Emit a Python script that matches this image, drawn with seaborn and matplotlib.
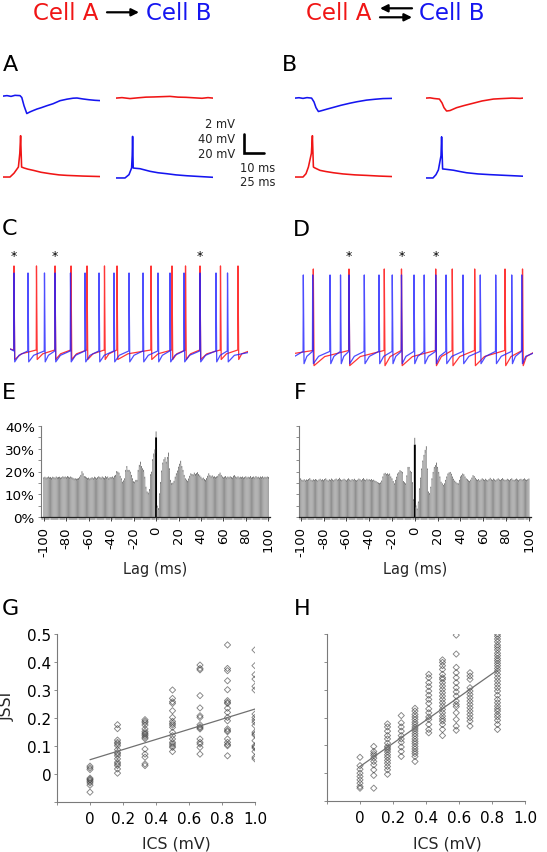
import numpy as np
import pandas as pd
import matplotlib
matplotlib.use("Agg")
import matplotlib.pyplot as plt
from matplotlib.patches import FancyArrowPatch
from matplotlib.transforms import blended_transform_factory
from matplotlib.ticker import FixedLocator, MultipleLocator
import seaborn as sns

sns.set_style("white")
plt.rcParams['font.family'] = ['DejaVu Sans']

W, H = 547, 853
RED = '#f01515'
BLUE = '#1515f0'

# ======================= DATA =======================
# --- Panels A/B: averaged traces (time in ms, voltage in mV) ---
A_top_left_t = [0, 2, 4, 6, 8.5, 9.4, 10.5, 11.9, 13.5, 15.2, 17, 19, 22, 25, 28.5, 32, 35, 37, 40, 43, 46, 48.5]
A_top_left_v = [0.0, 0.05, -0.03, 0.08, 0.05, -0.15, -1.0, -1.82, -1.65, -1.5, -1.35, -1.22, -1.0, -0.8, -0.48, -0.32, -0.22, -0.2, -0.3, -0.38, -0.44, -0.47]
A_top_right_t = [0, 3, 7, 11, 15, 19, 23, 27, 31, 35, 39, 43, 46, 48.5]
A_top_right_v = [0.0, 0.05, -0.05, 0.03, 0.1, 0.12, 0.15, 0.18, 0.1, 0.08, 0.03, -0.02, 0.05, 0.0]
A_bot_left_t = [0, 3.5, 5.5, 7.7, 8.4, 8.8, 9.3, 10.5, 12.5, 15.2, 19, 23.5, 28, 32, 40, 48.5]
A_bot_left_v = [-65, -65, -57, -44, -15, 22, -44, -46, -48.5, -51, -55, -58, -60.5, -61.6, -63, -64]
A_bot_right_t = [0, 4.5, 6.5, 7.8, 8.1, 8.3, 8.6, 9.5, 12, 17, 21, 25.3, 30, 35.3, 42, 48.5]
A_bot_right_v = [-67, -67, -60, -46, -20, 20.5, -46, -46.5, -47.5, -53, -56, -58, -60.5, -62.3, -64, -65.6]

B_top_left_t = [0, 2, 4, 6, 8.3, 9.5, 10.5, 11.7, 13.5, 16, 19, 23, 27.5, 31, 35.8, 40, 44, 48.5]
B_top_left_v = [0, 0.04, -0.03, 0.05, 0.0, -0.4, -1.0, -1.4, -1.3, -1.15, -0.98, -0.75, -0.53, -0.38, -0.21, -0.12, -0.05, -0.03]
B_top_right_t = [0, 2, 4, 6.7, 8, 9, 10.3, 12, 15.3, 19, 23.7, 28, 33.7, 38, 43, 47, 48.5]
B_top_right_v = [0, 0.03, -0.04, -0.1, -0.5, -1.0, -1.35, -1.3, -1.0, -0.78, -0.53, -0.3, -0.1, -0.05, 0.0, -0.03, 0.0]
B_bot_left_t = [0, 4, 5.5, 6.7, 8.2, 8.7, 9.2, 10, 12.5, 15.5, 19.2, 24, 30, 35.8, 42, 48.5]
B_bot_left_v = [-65, -65, -58, -44, -15, 22, -44, -46, -51, -53.5, -56, -58.5, -60.5, -61.6, -63, -64]
B_bot_right_t = [0, 3.5, 5, 6.2, 7.5, 7.8, 8.3, 9.5, 13.7, 17, 20.3, 26, 32, 37, 42, 48.5]
B_bot_right_v = [-67, -67, -60, -50, -20, 19.6, -48, -48.5, -50.7, -53.5, -56, -58.5, -60, -61, -62, -63.3]

SCALE_MS = 10
SCALE_MV = 40

# --- Panels C/D: spike times (ms) ---
C_red_spikes = [5.0, 33.1, 56.3, 76.3, 96.3, 118.1, 133.8, 176.3, 202.5, 219.4, 237.5, 263.1, 285.0]
C_blue_spikes = [5.0, 22.5, 43.1, 56.3, 75.6, 93.8, 111.3, 130.0, 148.8, 166.3, 185.0, 200.0, 217.5, 237.5, 257.5, 271.9]
C_sync = [5.0, 56.3, 237.5]
D_red_spikes = [22.9, 67.5, 111.6, 133.1, 175.9, 196.6, 224.6, 262.5, 284.4]
D_blue_spikes = [10.4, 22.1, 43.8, 56.9, 67.5, 86.6, 105.0, 121.6, 133.1, 148.8, 161.5, 175.9, 188.8, 210.0, 231.6, 250.9, 270.9, 283.4]
D_sync = [67.5, 133.1, 175.9]
# (threshold, peak, after-hyperpolarisation, start) in mV
C_red_levels = (-59.5, 29.0, -69.5, -58.4)
C_blue_levels = (-60.5, 21.6, -72.0, -58.4)
D_red_levels = (-60.0, 25.8, -76.0, -63.0)
D_blue_levels = (-61.0, 19.5, -73.9, -66.0)

# --- Panels E/F: cross-correlograms (% vs lag, ms) ---
lags = list(range(-100, 101))
E_pct = [
    16.5, 16.8, 16.4, 16.6, 16.9, 16.5, 16.7, 16.3, 16.8, 16.6,
    16.4, 16.9, 16.5, 16.7, 16.8, 16.4, 16.6, 17.0, 16.7, 16.9,
    16.6, 17.1, 16.8, 16.5, 16.9, 16.6, 16.3, 16.0, 16.1, 15.9,
    16.0, 16.2, 16.8, 17.6, 19.2, 18.3, 17.1, 16.9, 16.5, 16.2,
    16.4, 16.0, 16.3, 16.6, 16.2, 16.8, 16.5, 16.1, 16.6, 17.0,
    16.7, 16.4, 16.9, 16.5, 16.3, 17.1, 16.6, 16.9, 16.2, 16.7,
    16.6, 16.9, 16.4, 17.2, 17.6, 19.3, 19.0, 18.6, 17.2, 16.1,
    14.6, 15.2, 16.1, 19.8, 21.5, 19.8, 19.8, 19.0, 17.6, 16.1,
    14.8, 14.6, 15.4, 15.4, 19.8, 22.0, 23.0, 21.5, 20.5, 19.8,
    16.8, 12.4, 10.3, 9.8, 11.4, 17.9, 19.0, 24.5, 26.4, 28.1,
    35.0,
    4.1, 3.0, 9.5, 14.5, 19.5, 23.0, 24.5, 24.9, 23.4, 25.5,
    26.7, 20.5, 15.4, 14.0, 14.2, 15.0, 16.8, 18.3, 19.5, 21.2,
    22.5, 23.4, 21.5, 19.8, 17.6, 16.1, 15.5, 15.0, 16.0, 17.2,
    18.3, 18.0, 17.8, 18.6, 18.0, 18.4, 18.8, 18.0, 17.4, 16.8,
    16.1, 16.4, 15.8, 15.4, 16.2, 17.2, 18.3, 17.5, 17.0, 17.4,
    16.8, 17.0, 16.6, 16.9, 17.2, 18.0, 18.6, 17.6, 16.9, 16.5,
    16.8, 17.1, 16.5, 16.9, 16.6, 17.0, 16.7, 16.4, 17.2, 17.5,
    16.9, 16.6, 17.0, 16.5, 16.8, 16.6, 16.9, 16.4, 16.7, 17.0,
    16.5, 16.8, 16.6, 17.1, 16.4, 16.7, 16.9, 16.5, 17.1, 16.6,
    16.8, 16.4, 16.9, 16.6, 17.0, 16.5, 16.8, 16.6, 16.9, 16.7,
]
F_pct = [
    16.2, 15.6, 15.4, 15.8, 15.3, 15.7, 15.5, 15.9, 16.3, 15.6,
    15.4, 15.8, 15.5, 15.9, 15.6, 15.3, 15.7, 16.0, 15.5, 15.8,
    15.4, 15.9, 16.2, 15.6, 15.3, 15.8, 15.5, 16.1, 15.7, 15.4,
    15.8, 16.1, 15.6, 15.9, 16.4, 15.8, 15.5, 15.7, 16.0, 15.6,
    15.3, 15.8, 16.2, 15.7, 15.4, 15.9, 15.6, 16.0, 15.5, 15.3,
    15.6, 16.1, 15.8, 15.4, 15.9, 16.3, 15.7, 15.5, 16.0, 15.6,
    15.8, 15.5, 15.9, 15.4, 15.6, 15.2, 15.0, 14.6, 14.3, 14.1,
    14.4, 15.2, 17.0, 18.3, 18.6, 18.1, 18.4, 17.9, 18.3, 17.0,
    16.2, 15.0, 14.0, 15.5, 16.9, 18.3, 18.9, 19.8, 19.4, 19.0,
    15.0, 14.5, 14.0, 17.5, 20.8, 21.2, 19.5, 19.0, 14.5, 7.0,
    31.8,
    4.3, 2.9, 6.0, 11.8, 16.5, 20.5, 24.0, 26.5, 28.0, 29.5,
    20.5, 10.4, 9.7, 12.5, 16.2, 19.0, 21.2, 22.0, 22.7, 21.2,
    19.0, 17.0, 14.7, 14.0, 13.3, 14.0, 15.5, 17.0, 18.3, 18.8,
    19.0, 18.2, 17.0, 16.0, 15.2, 14.7, 14.2, 14.0, 15.5, 17.0,
    17.6, 18.3, 18.0, 17.0, 16.2, 15.8, 15.3, 15.0, 15.6, 16.5,
    17.6, 17.2, 16.4, 15.8, 15.5, 15.9, 15.3, 15.7, 16.2, 15.8,
    15.5, 16.0, 15.6, 15.4, 15.9, 16.4, 15.8, 15.5, 16.1, 15.7,
    15.4, 15.8, 16.2, 15.7, 15.5, 15.9, 16.3, 15.8, 15.5, 15.6,
    16.0, 15.7, 15.4, 15.9, 16.2, 15.6, 15.5, 15.8, 16.1, 15.7,
    15.4, 15.8, 16.0, 15.6, 15.9, 16.2, 15.7, 15.5, 15.8, 16.1,
]
E_err_base = 0.9
E_err_large = {0: 2.6, -1: 1.6, -2: 1.5, -14: 1.3, 8: 1.4, 11: 1.6, 22: 1.3}
F_err_base = 0.8
F_err_large = {0: 3.0, 9: 1.5, 10: 1.6, 19: 1.2, -6: 1.2}

# --- Panels G/H: JSSI vs ICS ---
G_levels = [0.0, 1/6, 2/6, 3/6, 4/6, 5/6, 1.0]
G_jssi = [
    [0.028, 0.022, 0.016, -0.015, -0.019, -0.022, -0.027, -0.032, -0.04, -0.065],
    [0.176, 0.162, 0.121, 0.113, 0.108, 0.101, 0.087, 0.077, 0.072, 0.065, 0.054, 0.042, 0.036, 0.03, 0.018, 0.003],
    [0.194, 0.188, 0.183, 0.175, 0.161, 0.152, 0.146, 0.142, 0.137, 0.131, 0.126, 0.089, 0.071, 0.06, 0.036, 0.03],
    [0.3, 0.27, 0.258, 0.252, 0.226, 0.202, 0.188, 0.181, 0.175, 0.167, 0.149, 0.137, 0.125, 0.113, 0.107, 0.1, 0.095, 0.08],
    [0.389, 0.377, 0.372, 0.28, 0.236, 0.208, 0.202, 0.176, 0.169, 0.165, 0.161, 0.125, 0.113, 0.107, 0.095, 0.071],
    [0.461, 0.377, 0.369, 0.333, 0.301, 0.262, 0.256, 0.252, 0.235, 0.22, 0.202, 0.19, 0.161, 0.155, 0.151, 0.125, 0.113, 0.105, 0.101, 0.065],
    [0.443, 0.387, 0.355, 0.339, 0.313, 0.3, 0.214, 0.202, 0.193, 0.185, 0.173, 0.149, 0.143, 0.139, 0.119, 0.101, 0.097, 0.093, 0.08, 0.06, 0.054],
]
G_fit = (0.051, 0.181)      # intercept, slope
G_fit_range = (0.0, 1.0)

H_levels = [0.0, 1/12, 2/12, 3/12, 4/12, 5/12, 6/12, 7/12, 8/12, 10/12]
H_jssi = [
    [0.057, 0.027, 0.014, 0.0, -0.012, -0.024, -0.036, -0.048, -0.054],
    [0.096, 0.078, 0.07, 0.063, 0.054, 0.042, 0.03, 0.012, -0.008, -0.054],
    [0.177, 0.166, 0.151, 0.135, 0.123, 0.108, 0.096, 0.09, 0.084, 0.076, 0.066, 0.057, 0.046, 0.036, 0.024, 0.012, -0.004],
    [0.207, 0.181, 0.166, 0.151, 0.135, 0.123, 0.111, 0.094, 0.078, 0.06],
    [0.233, 0.223, 0.211, 0.202, 0.193, 0.183, 0.175, 0.166, 0.159, 0.151, 0.142, 0.133, 0.123, 0.114, 0.106, 0.096, 0.087, 0.078, 0.07, 0.06, 0.042],
    [0.355, 0.343, 0.325, 0.311, 0.295, 0.28, 0.265, 0.251, 0.231, 0.217, 0.202, 0.193, 0.175, 0.157, 0.145],
    [0.407, 0.398, 0.386, 0.373, 0.355, 0.343, 0.337, 0.325, 0.313, 0.301, 0.289, 0.277, 0.265, 0.253, 0.241, 0.229, 0.217, 0.205, 0.195, 0.187, 0.175, 0.157, 0.135],
    [0.496, 0.428, 0.38, 0.361, 0.343, 0.325, 0.307, 0.292, 0.277, 0.259, 0.247, 0.239, 0.217, 0.193, 0.169, 0.154],
    [0.361, 0.349, 0.337, 0.307, 0.295, 0.283, 0.271, 0.259, 0.247, 0.235, 0.223, 0.211, 0.199, 0.187, 0.169],
    [0.5, 0.492, 0.482, 0.472, 0.46, 0.452, 0.443, 0.431, 0.422, 0.412, 0.404, 0.395, 0.386, 0.376, 0.367, 0.355, 0.343, 0.331, 0.319, 0.307, 0.295, 0.28, 0.265, 0.253, 0.241, 0.231, 0.223, 0.211, 0.202, 0.19, 0.175, 0.157],
]
H_fit = (0.024, 0.416)
H_fit_range = (0.0, 10/12)

x_ticks_ics = [-0.2, 0.0, 0.2, 0.4, 0.6, 0.8, 1.0]
x_ticklabels_ics = ['', '0', '0.2', '0.4', '0.6', '0.8', '1.0']
y_ticks_jssi = [-0.1, 0.0, 0.1, 0.2, 0.3, 0.4, 0.5]
y_ticklabels_jssi = ['', '0', '0.1', '0.2', '0.3', '0.4', '0.5']
lag_ticks = [-100, -80, -60, -40, -20, 0, 20, 40, 60, 80, 100]
pct_ticks = [0, 10, 20, 30, 40]

# ======================= FIGURE =======================
fig = plt.figure(figsize=(W / 100, H / 100), dpi=100)


def pax(x0, y0, x1, y1):
    return fig.add_axes([x0 / W, 1 - y1 / H, (x1 - x0) / W, (y1 - y0) / H])


def ftext(x, y, s, **kw):
    return fig.text(x / W, 1 - y / H, s, **kw)


def fpos(x, y):
    return (x / W, 1 - y / H)


# ---- header ----
ftext(66, 20.5, 'Cell A', color=RED, fontsize=16.5, ha='center', va='baseline')
ftext(179, 20.5, 'Cell B', color=BLUE, fontsize=16.5, ha='center', va='baseline')
ftext(339, 20.5, 'Cell A', color=RED, fontsize=16.5, ha='center', va='baseline')
ftext(451.5, 20.5, 'Cell B', color=BLUE, fontsize=16.5, ha='center', va='baseline')
for (xa, ya, xb, yb) in [(107, 13.3, 139, 13.3), (412, 9.3, 380, 9.3), (380, 18.3, 412, 18.3)]:
    fig.add_artist(FancyArrowPatch(fpos(xa, ya), fpos(xb, yb), transform=fig.transFigure,
                                   arrowstyle='-|>', mutation_scale=11, lw=1.6, color='black',
                                   shrinkA=0, shrinkB=0))

# ---- panel letters ----
for (x, y, s) in [(3, 71, 'A'), (282, 71, 'B'), (2, 235, 'C'), (293, 236, 'D'),
                  (2, 399, 'E'), (294, 399, 'F'), (2, 615, 'G'), (294, 615, 'H')]:
    ftext(x, y, s, fontsize=16, ha='left', va='baseline', color='black')

# ---- A / B traces ----
TOP_YLIM = (-2.6, 0.95)
BOT_YLIM = (-79.7, 40.3)
TR_XLIM = (0, 48.5)


def trace(box, t, v, color, ylim):
    ax = pax(*box)
    sns.lineplot(x=t, y=v, sort=False, estimator=None, color=color, linewidth=1.15, ax=ax)
    ax.set_xlim(*TR_XLIM)
    ax.set_ylim(*ylim)
    ax.axis('off')
    return ax


trace((3, 88, 100, 122), A_top_left_t, A_top_left_v, BLUE, TOP_YLIM)
trace((116, 90, 213, 124), A_top_right_t, A_top_right_v, RED, TOP_YLIM)
trace((3, 128, 100, 185), A_bot_left_t, A_bot_left_v, RED, BOT_YLIM)
ax_sb = trace((116, 128, 213, 185), A_bot_right_t, A_bot_right_v, BLUE, BOT_YLIM)
trace((295, 90, 392, 124), B_top_left_t, B_top_left_v, BLUE, TOP_YLIM)
trace((426, 90, 523, 124), B_top_right_t, B_top_right_v, RED, TOP_YLIM)
trace((295, 128, 392, 185), B_bot_left_t, B_bot_left_v, RED, BOT_YLIM)
trace((426, 128, 523, 185), B_bot_right_t, B_bot_right_v, BLUE, BOT_YLIM)

# scale bar (10 ms x 40 mV) drawn in the data units of an A trace axes
sb_x0, sb_y0 = 64.0, -14.4
ax_sb.plot([sb_x0, sb_x0, sb_x0 + SCALE_MS], [sb_y0 + SCALE_MV, sb_y0, sb_y0],
           color='black', lw=1.9, clip_on=False, solid_joinstyle='miter')
for (y, s) in [(128, '2 mV'), (143, '40 mV'), (158, '20 mV')]:
    ftext(235, y, s, fontsize=8.3, ha='right', va='baseline', color='#222222')
for (y, s) in [(171.5, '10 ms'), (186.5, '25 ms')]:
    ftext(258, y, s, fontsize=8.3, ha='center', va='baseline', color='#222222')

# ---- C / D spike trains ----
CD_XLIM = (0, 297.5)
CD_YLIM = (-77.4, 34.2)


def spike_train(spikes, t_end, levels):
    v_thr, v_peak, v_ahp, v_start = levels
    ts, vs = [0.0], [v_start]
    prev = None
    for s in spikes:
        if prev is not None:
            isi = s - prev
            ts += [prev + 0.9, prev + 0.9 + 0.3 * isi, s - 0.3]
            vs += [v_ahp, v_ahp + 0.6 * (v_thr - v_ahp), v_thr]
        else:
            ts += [s - 0.3]
            vs += [v_thr]
        ts += [s]
        vs += [v_peak]
        prev = s
    isi = t_end - prev
    ts += [prev + 0.9, prev + 0.9 + 0.3 * isi, t_end]
    vs += [v_ahp, v_ahp + 0.6 * (v_thr - v_ahp), v_ahp + 0.85 * (v_thr - v_ahp)]
    return ts, vs


def spike_panel(box, red_sp, blue_sp, red_lv, blue_lv, sync):
    ax = pax(*box)
    tr, vr = spike_train(red_sp, CD_XLIM[1], red_lv)
    tb, vb = spike_train(blue_sp, CD_XLIM[1], blue_lv)
    sns.lineplot(x=tr, y=vr, sort=False, estimator=None, color='#ff2020', linewidth=0.9, alpha=0.9, ax=ax)
    sns.lineplot(x=tb, y=vb, sort=False, estimator=None, color='#2020ff', linewidth=0.9, alpha=0.8, ax=ax)
    ax.set_xlim(*CD_XLIM)
    ax.set_ylim(*CD_YLIM)
    ax.axis('off')
    trans = blended_transform_factory(ax.transData, ax.transAxes)
    for s in sync:
        ax.text(s, 1.02, '*', transform=trans, ha='center', va='baseline', fontsize=9, color='black')
    return ax


spike_panel((10, 262, 248, 368), C_red_spikes, C_blue_spikes, C_red_levels, C_blue_levels, C_sync)
spike_panel((295, 262, 533, 368), D_red_spikes, D_blue_spikes, D_red_levels, D_blue_levels, D_sync)

# ---- E / F correlograms ----


def correlogram(box, pct, err_base, err_large, show_ylabels, xlim):
    ax = pax(*box)
    df = pd.DataFrame({'lag': lags, 'pct': pct})
    sns.barplot(data=df, x='lag', y='pct', native_scale=True, width=0.82, color='#8a8a8a',
                edgecolor='none', linewidth=0, errorbar=None, ax=ax)
    for p in ax.patches:
        p.set_snap(False)
        c = p.get_x() + p.get_width() / 2
        if abs(c) < 0.01:
            p.set_facecolor('black')
            p.set_edgecolor('black')
            p.set_width(1.7)
            p.set_x(-0.85)
    err = [err_large.get(l, err_base) for l in lags]
    eb = ax.errorbar(lags, pct, yerr=[np.zeros(len(lags)), err], fmt='none',
                     ecolor='#333333', elinewidth=0.45, capsize=0)
    for coll in eb[2]:
        coll.set_snap(False)
    ax.set_xlim(*xlim)
    ax.set_ylim(0, 40)
    sns.despine(ax=ax)
    ax.spines['left'].set_color('#7a7a7a')
    ax.spines['left'].set_linewidth(0.8)
    ax.spines['bottom'].set_color('#222222')
    ax.spines['bottom'].set_linewidth(0.9)
    ax.xaxis.set_major_locator(FixedLocator(lag_ticks))
    ax.set_xticklabels([str(t) for t in lag_ticks], rotation=90, fontsize=9.5)
    ax.xaxis.set_minor_locator(MultipleLocator(1))
    ax.tick_params(axis='x', which='major', direction='out', length=3, width=0.6, pad=3.5, colors='#222222',
                   bottom=True, labelcolor='black')
    ax.tick_params(axis='x', which='minor', direction='out', length=1.8, width=0.35, bottom=True, colors='#555555')
    if show_ylabels:
        ax.yaxis.set_major_locator(FixedLocator(pct_ticks))
        ax.set_yticklabels(['%d%%' % t for t in pct_ticks], fontsize=9.7)
        ax.yaxis.set_minor_locator(MultipleLocator(5))
    else:
        ax.yaxis.set_major_locator(MultipleLocator(5))
        ax.set_yticklabels([])
    ax.tick_params(axis='y', which='both', direction='out', length=2.5, width=0.6, pad=2, left=True,
                   colors='#7a7a7a', labelcolor='black')
    ax.set_xlabel('')
    ax.set_ylabel('')
    ax.grid(False)
    return ax


correlogram((41, 427, 270, 518), E_pct, E_err_base, E_err_large, True, (-102.5, 101.5))
correlogram((299, 427, 531, 518), F_pct, F_err_base, F_err_large, False, (-101.5, 101.8))
ftext(155.5, 574, 'Lag (ms)', fontsize=10.5, ha='center', va='baseline')
ftext(415, 574, 'Lag (ms)', fontsize=10.5, ha='center', va='baseline')

# ---- G / H scatter ----


def jssi_panel(box, levels, jssi, fit, fit_range, show_ylabels):
    ax = pax(*box)
    xs, ys = [], []
    for lv, vals in zip(levels, jssi):
        xs += [lv] * len(vals)
        ys += vals
    df = pd.DataFrame({'ICS': xs, 'JSSI': ys})
    sns.scatterplot(data=df, x='ICS', y='JSSI', marker='D', s=10, facecolors='none',
                    edgecolors='#333333', linewidths=0.65, alpha=0.6, ax=ax)
    fx = list(fit_range)
    fy = [fit[0] + fit[1] * x for x in fx]
    sns.lineplot(x=fx, y=fy, color='#707070', linewidth=0.9, ax=ax)
    ax.set_xlim(-0.2, 1.0)
    ax.set_ylim(-0.1, 0.5)
    sns.despine(ax=ax)
    for sp in ('left', 'bottom'):
        ax.spines[sp].set_color('#7a7a7a')
        ax.spines[sp].set_linewidth(0.8)
    ax.xaxis.set_major_locator(FixedLocator(x_ticks_ics))
    ax.set_xticklabels(x_ticklabels_ics, fontsize=11)
    ax.yaxis.set_major_locator(FixedLocator(y_ticks_jssi))
    if show_ylabels:
        ax.set_yticklabels(y_ticklabels_jssi, fontsize=11)
    else:
        ax.set_yticklabels([])
    ax.tick_params(axis='both', direction='out', length=2.5, width=0.6, colors='#7a7a7a',
                   labelcolor='black', left=True, bottom=True)
    ax.tick_params(axis='x', pad=4)
    ax.tick_params(axis='y', pad=1.5)
    ax.set_xlabel('')
    ax.set_ylabel('')
    ax.grid(False)
    return ax


jssi_panel((57, 635, 255, 803), G_levels, G_jssi, G_fit, G_fit_range, True)
jssi_panel((327, 635, 525, 802), H_levels, H_jssi, H_fit, H_fit_range, False)
ftext(176, 849, 'ICS (mV)', fontsize=11.3, ha='center', va='baseline')
ftext(447, 849, 'ICS (mV)', fontsize=11.3, ha='center', va='baseline')
ftext(7, 706, 'JSSI', fontsize=11.3, ha='center', va='center', rotation=90)

fig.savefig('out.png', dpi=100)
